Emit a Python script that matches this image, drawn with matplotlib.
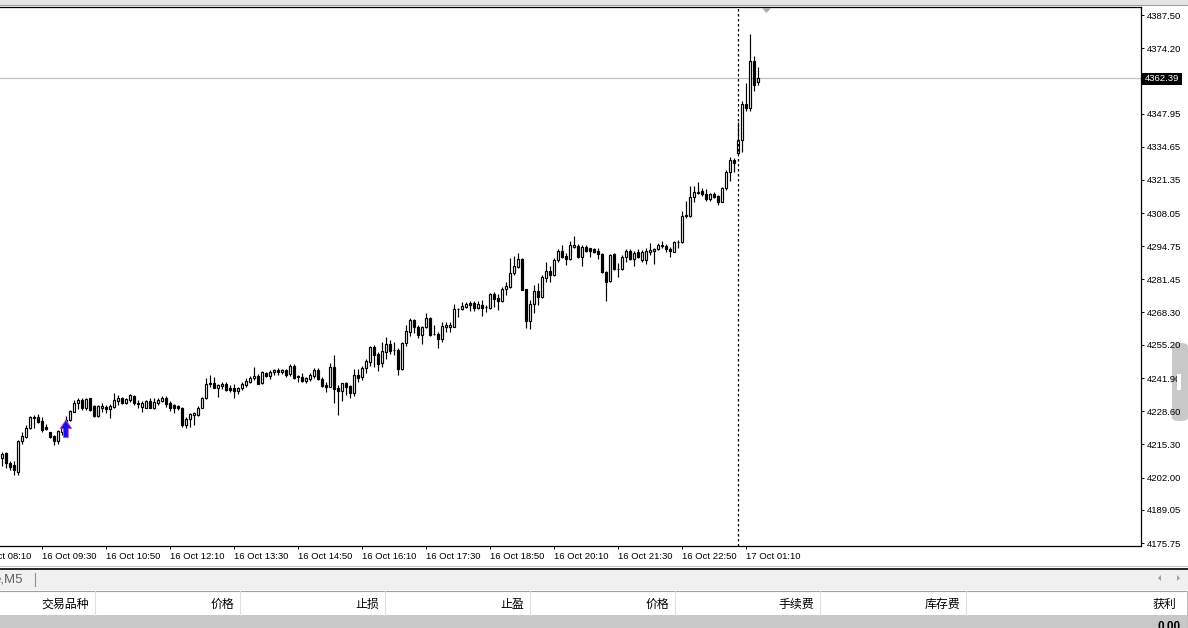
import matplotlib
matplotlib.use('Agg')
import matplotlib.pyplot as plt
from matplotlib.patches import Rectangle, Polygon, FancyBboxPatch
from matplotlib.lines import Line2D

plt.rcParams['font.family'] = ['Liberation Sans', 'Noto Sans CJK SC', 'DejaVu Sans']

W, H = 1188, 628

# M5 candles, 16 Oct 07:35 .. 17 Oct 01:25
opens = [
    4209.7, 4211.7, 4208.0, 4207.0, 4204.1, 4216.7, 4218.4, 4221.8, 4226.3, 4226.3,
    4224.7, 4222.4, 4220.4, 4218.8, 4216.7, 4220.4, 4223.8, 4225.1, 4228.4, 4231.8,
    4233.1, 4230.0, 4233.8, 4230.8, 4226.8, 4230.0, 4230.4, 4229.5, 4230.4, 4232.7,
    4234.0, 4231.8, 4233.1, 4234.8, 4231.8, 4230.4, 4230.0, 4232.7, 4229.8, 4231.8,
    4232.7, 4234.0, 4232.0, 4231.1, 4230.7, 4230.0, 4223.1, 4225.5, 4227.1, 4227.1,
    4230.0, 4233.8, 4239.4, 4239.8, 4238.0, 4238.8, 4239.4, 4238.0, 4238.0, 4236.8,
    4237.8, 4239.1, 4240.4, 4241.8, 4242.8, 4239.8, 4244.0, 4242.8, 4244.2, 4245.1,
    4244.2, 4245.1, 4243.4, 4246.9, 4242.8, 4242.4, 4240.7, 4241.5, 4242.8, 4245.1,
    4241.4, 4239.1, 4238.4, 4246.2, 4238.0, 4236.8, 4239.8, 4238.7, 4236.0, 4243.1,
    4242.2, 4245.8, 4248.5, 4254.5, 4251.5, 4247.8, 4252.5, 4255.6, 4253.2, 4253.2,
    4245.4, 4255.8, 4260.5, 4265.2, 4262.5, 4259.2, 4262.5, 4266.1, 4259.6, 4259.6,
    4257.6, 4262.5, 4262.5, 4262.5, 4269.6, 4269.5, 4270.5, 4271.9, 4272.1, 4269.9,
    4271.2, 4270.5, 4269.9, 4275.6, 4273.9, 4272.8, 4277.5, 4278.5, 4283.9, 4286.6,
    4289.6, 4277.6, 4264.9, 4271.5, 4276.8, 4274.5, 4282.1, 4284.8, 4283.2, 4289.2,
    4292.9, 4291.0, 4289.5, 4294.6, 4295.0, 4290.6, 4294.6, 4293.9, 4293.7, 4292.9,
    4291.5, 4284.5, 4280.8, 4291.5, 4285.6, 4285.6, 4290.6, 4292.9, 4289.5, 4292.3,
    4289.2, 4289.2, 4292.6, 4292.9, 4293.7, 4295.0, 4295.0, 4293.7, 4292.6, 4296.3,
    4296.3, 4307.0, 4307.0, 4314.4, 4316.2, 4316.9, 4315.6, 4313.6, 4315.6, 4314.9,
    4312.6, 4318.0, 4324.6, 4329.3, 4332.0, 4337.4, 4351.7, 4350.1, 4369.0, 4360.5,
]
highs = [
    4212.4, 4212.4, 4208.6, 4208.6, 4217.1, 4220.4, 4223.1, 4226.8, 4227.1, 4227.4,
    4226.4, 4223.4, 4220.4, 4219.1, 4221.1, 4222.0, 4226.8, 4229.1, 4233.1, 4233.8,
    4233.8, 4233.8, 4234.0, 4231.1, 4231.1, 4231.8, 4231.1, 4231.4, 4235.8, 4235.1,
    4234.4, 4233.8, 4235.4, 4235.1, 4233.1, 4232.7, 4233.1, 4234.0, 4233.8, 4233.8,
    4234.8, 4234.8, 4232.7, 4231.4, 4231.1, 4230.4, 4226.4, 4227.8, 4228.4, 4230.7,
    4234.4, 4241.8, 4243.1, 4242.4, 4239.4, 4240.2, 4240.2, 4239.1, 4239.4, 4238.4,
    4240.2, 4241.8, 4242.8, 4246.5, 4243.4, 4244.7, 4244.5, 4245.1, 4245.5, 4246.1,
    4245.5, 4245.5, 4247.5, 4247.4, 4243.1, 4243.8, 4242.4, 4243.8, 4245.8, 4245.8,
    4242.4, 4240.4, 4247.8, 4251.1, 4239.1, 4240.0, 4240.4, 4239.1, 4245.4, 4245.4,
    4246.7, 4249.4, 4254.8, 4255.2, 4252.5, 4256.5, 4258.2, 4257.2, 4256.5, 4253.8,
    4256.5, 4263.2, 4265.9, 4265.5, 4263.2, 4262.8, 4267.9, 4266.5, 4263.2, 4260.5,
    4264.5, 4264.5, 4264.5, 4271.6, 4270.1, 4272.5, 4272.5, 4272.9, 4272.8, 4272.9,
    4273.2, 4271.2, 4275.9, 4276.5, 4275.5, 4278.5, 4280.5, 4289.9, 4290.8, 4291.9,
    4290.2, 4277.6, 4273.2, 4279.2, 4279.9, 4283.2, 4288.3, 4287.0, 4289.9, 4293.7,
    4295.3, 4291.9, 4296.9, 4298.9, 4295.5, 4295.3, 4295.3, 4294.2, 4294.2, 4293.9,
    4291.9, 4284.8, 4291.5, 4291.9, 4287.9, 4291.2, 4293.7, 4293.7, 4292.9, 4293.7,
    4293.3, 4293.9, 4295.9, 4294.2, 4295.9, 4296.9, 4295.5, 4294.6, 4296.9, 4297.3,
    4308.9, 4312.9, 4318.9, 4318.9, 4320.6, 4318.0, 4317.7, 4316.0, 4316.4, 4315.3,
    4318.6, 4325.3, 4330.7, 4330.3, 4344.7, 4353.0, 4360.1, 4379.7, 4371.2, 4366.8,
]
lows = [
    4206.6, 4205.7, 4205.0, 4203.0, 4203.0, 4215.3, 4217.7, 4221.5, 4221.8, 4223.8,
    4220.2, 4221.1, 4218.0, 4215.1, 4215.3, 4219.1, 4222.4, 4224.7, 4228.2, 4229.5,
    4229.1, 4229.1, 4228.7, 4226.4, 4226.4, 4228.4, 4227.8, 4225.8, 4230.0, 4231.1,
    4231.4, 4231.5, 4232.2, 4231.1, 4230.0, 4228.4, 4229.8, 4229.8, 4229.5, 4231.1,
    4232.2, 4230.4, 4228.7, 4227.8, 4229.1, 4222.4, 4222.0, 4222.4, 4223.1, 4226.8,
    4229.8, 4233.5, 4238.4, 4238.0, 4234.4, 4237.5, 4236.7, 4236.4, 4234.0, 4235.4,
    4237.1, 4238.4, 4239.8, 4241.1, 4239.4, 4239.5, 4242.4, 4241.5, 4243.1, 4243.1,
    4243.4, 4242.4, 4242.8, 4241.5, 4240.4, 4240.4, 4239.8, 4240.7, 4241.8, 4241.1,
    4238.2, 4236.4, 4238.2, 4232.0, 4227.1, 4232.8, 4235.1, 4233.8, 4234.7, 4240.4,
    4241.1, 4244.0, 4246.7, 4246.2, 4244.9, 4246.2, 4249.4, 4251.5, 4251.1, 4243.1,
    4245.1, 4254.8, 4258.8, 4260.1, 4257.8, 4255.4, 4261.8, 4258.8, 4259.2, 4254.1,
    4256.5, 4260.5, 4260.5, 4262.3, 4266.3, 4269.2, 4269.9, 4268.9, 4268.9, 4269.5,
    4266.9, 4268.5, 4269.6, 4270.5, 4269.2, 4272.5, 4275.2, 4277.9, 4283.2, 4286.2,
    4277.2, 4261.8, 4261.6, 4268.1, 4271.2, 4274.1, 4280.3, 4280.5, 4282.9, 4288.6,
    4289.9, 4287.2, 4289.2, 4294.2, 4290.2, 4287.0, 4292.6, 4290.6, 4291.9, 4289.6,
    4283.9, 4272.8, 4280.3, 4285.2, 4282.5, 4285.2, 4288.6, 4289.2, 4287.0, 4289.9,
    4288.3, 4287.5, 4291.2, 4287.5, 4293.3, 4294.2, 4292.6, 4290.6, 4292.3, 4294.2,
    4295.9, 4306.2, 4306.6, 4312.4, 4315.6, 4315.0, 4313.0, 4313.0, 4314.2, 4311.3,
    4312.4, 4317.3, 4320.9, 4324.6, 4331.6, 4332.4, 4349.0, 4349.0, 4357.0, 4359.4,
]
closes = [
    4211.3, 4207.7, 4206.4, 4205.0, 4216.7, 4218.8, 4222.0, 4226.4, 4225.9, 4224.4,
    4221.1, 4221.5, 4218.1, 4216.7, 4220.7, 4221.8, 4225.1, 4228.7, 4231.8, 4233.1,
    4229.8, 4233.5, 4229.1, 4226.8, 4230.8, 4230.8, 4229.5, 4230.8, 4233.1, 4233.8,
    4231.8, 4233.4, 4235.1, 4231.8, 4231.5, 4231.8, 4232.7, 4230.0, 4232.4, 4233.1,
    4234.0, 4231.4, 4230.0, 4230.0, 4229.8, 4223.1, 4225.5, 4227.4, 4227.8, 4230.0,
    4233.8, 4239.4, 4239.8, 4238.0, 4239.1, 4239.4, 4237.1, 4237.1, 4236.8, 4238.0,
    4239.4, 4240.7, 4242.0, 4242.8, 4239.5, 4244.2, 4242.8, 4244.5, 4245.1, 4244.2,
    4245.1, 4243.1, 4246.9, 4242.0, 4242.3, 4240.7, 4241.8, 4243.1, 4245.1, 4241.5,
    4238.7, 4238.4, 4246.2, 4237.4, 4236.8, 4239.8, 4238.4, 4236.0, 4243.1, 4242.0,
    4246.1, 4248.7, 4254.5, 4251.1, 4247.5, 4252.8, 4255.6, 4252.9, 4253.0, 4245.4,
    4256.1, 4260.8, 4265.2, 4262.5, 4259.2, 4262.5, 4266.1, 4259.2, 4259.5, 4257.6,
    4262.8, 4263.2, 4263.2, 4269.5, 4269.7, 4270.8, 4271.6, 4271.2, 4269.9, 4271.6,
    4270.1, 4270.4, 4275.6, 4273.6, 4272.8, 4277.5, 4278.9, 4283.9, 4286.8, 4289.6,
    4277.2, 4264.9, 4271.5, 4276.8, 4274.5, 4282.3, 4284.8, 4283.2, 4289.2, 4292.9,
    4290.6, 4289.5, 4295.3, 4295.3, 4290.6, 4294.6, 4293.0, 4293.0, 4292.6, 4291.5,
    4284.5, 4280.5, 4291.2, 4285.6, 4285.5, 4290.6, 4292.9, 4289.5, 4292.2, 4290.6,
    4292.6, 4292.9, 4293.3, 4293.7, 4295.3, 4295.3, 4293.7, 4292.9, 4296.3, 4296.5,
    4307.0, 4307.3, 4314.4, 4316.6, 4316.6, 4315.6, 4313.6, 4315.6, 4314.6, 4312.6,
    4318.2, 4324.6, 4329.3, 4328.0, 4337.4, 4351.7, 4350.1, 4369.0, 4359.4, 4362.39,
]

bid_price = 4362.39
day_separator_bar = 184
buy_signal_bar = 16

time_tick_bars = [-6, 10, 26, 42, 58, 74, 90, 106, 122, 138, 154, 170, 186]
time_tick_labels = ['16 Oct 08:10', '16 Oct 09:30', '16 Oct 10:50', '16 Oct 12:10',
                    '16 Oct 13:30', '16 Oct 14:50', '16 Oct 16:10', '16 Oct 17:30',
                    '16 Oct 18:50', '16 Oct 20:10', '16 Oct 21:30', '16 Oct 22:50',
                    '17 Oct 01:10']
price_ticks = [4387.50, 4374.20, 4347.95, 4334.65, 4321.35, 4308.05, 4294.75,
               4281.45, 4268.30, 4255.20, 4241.90, 4228.60, 4215.30, 4202.00,
               4189.05, 4175.75]

columns = ['交易品种', '价格', '止损', '止盈', '价格', '手续费', '库存费', '获利']
column_right = [89, 234, 379, 524, 669, 814, 960, 1176]
column_lines = [95, 240, 385, 530, 675, 820, 966]


def fx(x):
    return x / W


def fy(y):
    return 1 - y / H


fig = plt.figure(figsize=(W / 100, H / 100), dpi=100)
fig.patch.set_facecolor('white')

# chart area in pixels: x 0..1141, y 7..546
ax = fig.add_axes([0, fy(546), fx(1141), (546 - 7) / H])
ax.set_xlim(-0.575, 284.675)
ax.set_ylim(4174.55, 4390.71)
ax.set_facecolor('white')

xs = list(range(len(opens)))
ax.vlines(xs, lows, highs, color='black', lw=0.85, zorder=2)
for i in xs:
    o, c = opens[i], closes[i]
    h = max(abs(c - o), 0.15)
    ax.bar(i, h, bottom=min(o, c), width=0.5,
           facecolor='white' if c >= o else 'black',
           edgecolor='black', lw=0.85, zorder=3)

ax.axhline(bid_price, color='#c0c0c0', lw=0.9, zorder=1)
ax.axvline(day_separator_bar, color='black', lw=0.9, ls=(0, (2, 2)), zorder=4)

# buy arrow
b = buy_signal_bar - 0.1
arrow = Polygon([(b, 4225.0), (b + 1.5, 4221.6), (b + 0.6, 4221.6), (b + 0.6, 4218.0),
                 (b - 0.6, 4218.0), (b - 0.6, 4221.6), (b - 1.5, 4221.6)],
                closed=True, facecolor='#1414e6', edgecolor='#d050d0', lw=0.6, zorder=5)
ax.add_patch(arrow)

ax.spines['left'].set_visible(False)
for s in ['top', 'right', 'bottom']:
    ax.spines[s].set_linewidth(0.9)

ax.yaxis.tick_right()
ax.set_yticks(price_ticks)
ax.set_yticklabels(['%.2f' % p for p in price_ticks])
ax.tick_params(axis='y', direction='out', length=2.5, width=0.7, pad=2,
               labelsize=6.8, colors='black')

ax.set_xticks(time_tick_bars[1:])
ax.set_xticklabels(time_tick_labels[1:])
ax.tick_params(axis='x', direction='out', length=2.5, width=0.7, pad=1.5,
               labelsize=6.8)
for lbl in ax.get_xticklabels():
    lbl.set_ha('left')
ax.text(time_tick_bars[0] - 0.3, -0.012, time_tick_labels[0], transform=ax.get_xaxis_transform(),
        ha='left', va='top', fontsize=6.8, clip_on=False)

# current price label
fig.add_artist(Rectangle((fx(1142), fy(84.5)), fx(40), 11 / H, transform=fig.transFigure,
                         facecolor='black', edgecolor='none', zorder=3))
fig.text(fx(1162), fy(78.5), '%.2f' % bid_price, color='white', fontsize=6.8,
         ha='center', va='center', zorder=4)

# chart shift marker
fig.add_artist(Polygon([(fx(762), fy(8)), (fx(771), fy(8)), (fx(766.5), fy(13))],
                       closed=True, transform=fig.transFigure, facecolor='#a8a8a8',
                       edgecolor='none', zorder=3))

# top window edge
fig.add_artist(Rectangle((0, fy(5)), 1, 5 / H, transform=fig.transFigure,
                         facecolor='#e4e4e4', edgecolor='none'))
fig.add_artist(Line2D([0, 1], [fy(5), fy(5)], transform=fig.transFigure,
                      color='#a0a0a0', lw=0.8))

# right scroll handle (behind the price labels)
fig.add_artist(FancyBboxPatch((fx(1172), fy(421)), fx(16), 78 / H,
                              boxstyle='round,pad=0,rounding_size=0.006',
                              transform=fig.transFigure, facecolor='#c8c8c8',
                              edgecolor='none', zorder=-1))
fig.add_artist(Rectangle((fx(1177), fy(390)), fx(4), 16 / H, transform=fig.transFigure,
                         facecolor='white', edgecolor='none', zorder=5))

# bottom terminal panel
fig.add_artist(Line2D([0, 1], [fy(566), fy(566)], transform=fig.transFigure,
                      color='#c8c8c8', lw=0.8))
fig.add_artist(Rectangle((0, fy(590)), 1, 21 / H, transform=fig.transFigure,
                         facecolor='#f0f0f0', edgecolor='none'))
fig.add_artist(Line2D([0, 1], [fy(568.5), fy(568.5)], transform=fig.transFigure,
                      color='black', lw=1.2))
fig.add_artist(Line2D([0, 1], [fy(590.5), fy(590.5)], transform=fig.transFigure,
                      color='#a0a0a0', lw=0.8))
fig.text(fx(23), fy(579), 'e,M5', color='#606060', fontsize=9.5, ha='right', va='center')
fig.add_artist(Line2D([fx(35), fx(35)], [fy(573), fy(586)], transform=fig.transFigure,
                      color='#909090', lw=0.8))
fig.add_artist(Polygon([(fx(1158), fy(578)), (fx(1161), fy(575)), (fx(1161), fy(581))],
                       closed=True, transform=fig.transFigure, facecolor='#a0a0a0',
                       edgecolor='none'))
fig.add_artist(Polygon([(fx(1180), fy(578)), (fx(1177), fy(575)), (fx(1177), fy(581))],
                       closed=True, transform=fig.transFigure, facecolor='#a0a0a0',
                       edgecolor='none'))

for xl in column_lines:
    fig.add_artist(Line2D([fx(xl), fx(xl)], [fy(591), fy(615)], transform=fig.transFigure,
                          color='#e0e0e0', lw=0.8))
fig.add_artist(Line2D([fx(1187), fx(1187)], [fy(591), fy(628)], transform=fig.transFigure,
                      color='#c0c0c0', lw=0.8))
for name, xr in zip(columns, column_right):
    fig.text(fx(xr), fy(604.5), name, fontsize=8.6, ha='right', va='center',
             family=['Noto Sans CJK SC', 'DejaVu Sans'])

fig.add_artist(Rectangle((0, 0), 1, 13 / H, transform=fig.transFigure,
                         facecolor='#c8c8c8', edgecolor='none'))
fig.text(fx(1181), fy(621.5), '0.00', fontsize=8.5, fontweight='bold', ha='right', va='top')

fig.savefig('out.png', dpi=100, facecolor='white')
